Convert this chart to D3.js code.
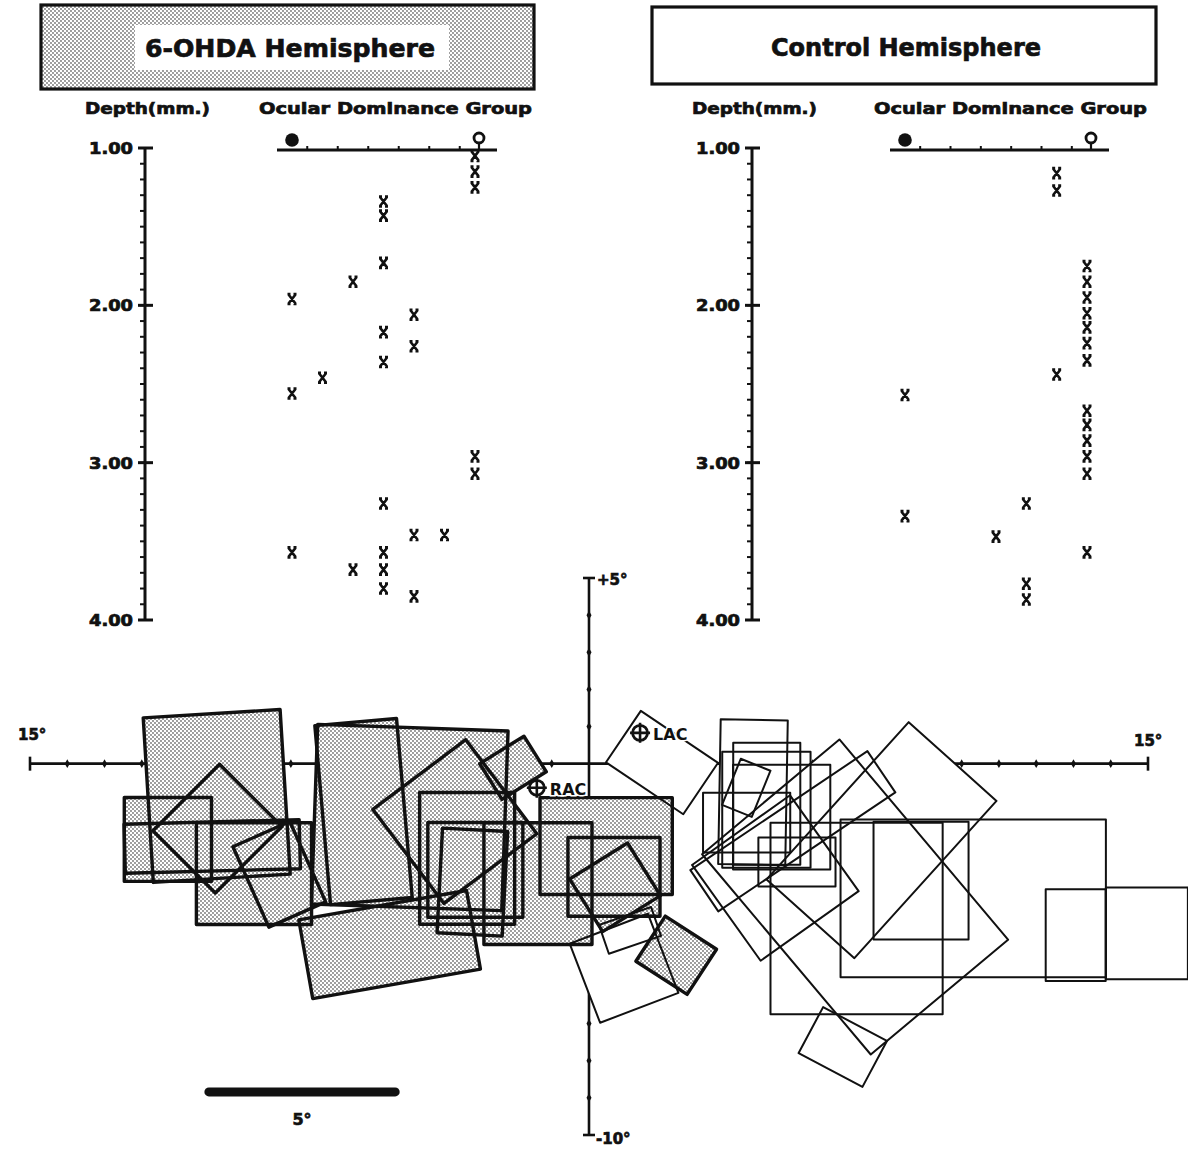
<!DOCTYPE html>
<html><head><meta charset="utf-8">
<script src="https://cdn.jsdelivr.net/npm/d3@7"></script>
<style>
  body { margin: 0; background: #fff; }
  svg { display: block; }
  text { font-family: "DejaVu Sans", "Liberation Sans", sans-serif; font-weight: bold; fill: #111; }
  text.heavy { stroke: #111; stroke-width: 0.7px; }
</style>
</head><body>
<svg id="fig" width="1188" height="1153"></svg>
<script>
// ---------- depth profiles ----------
const depthTicks = [1, 2, 3, 4];
const depthTickLabels = ["1.00", "2.00", "3.00", "4.00"];
const depthMinor = d3.range(10, 41).map(d => d / 10);
const odGroups = [1, 2, 3, 4, 5, 6, 7];

// 6-OHDA hemisphere: ocular dominance group and depth (mm) of each unit
const ohdaGroup = [1, 1, 1, 2, 3, 3, 4, 4, 4, 4, 4, 4, 4, 4, 4, 5, 5, 5, 5, 6, 7, 7, 7, 7, 7];
const ohdaDepth = [1.96, 2.56, 3.57, 2.46, 1.85, 3.68, 1.34, 1.43, 1.73, 2.17, 2.36, 3.26, 3.57, 3.68, 3.80,
                   2.06, 2.26, 3.46, 3.85, 3.46, 1.05, 1.15, 1.25, 2.96, 3.07];

// control hemisphere
const controlGroup = [1, 1, 4, 5, 5, 5, 6, 6, 6, 7, 7, 7, 7, 7, 7, 7, 7, 7, 7, 7, 7, 7];
const controlDepth = [2.57, 3.34, 3.47, 3.26, 3.77, 3.87, 1.16, 1.27, 2.44,
                      1.75, 1.85, 1.95, 2.05, 2.14, 2.24, 2.35, 2.67, 2.76, 2.86, 2.96, 3.07, 3.57];

// ---------- receptive field map (degrees of visual angle) ----------
// each field: [centre x, centre y, width, height, orientation (deg, counter-clockwise)]
const ohdaFields = [
  [-9.99, -0.87, 3.68, 4.44, 3.5],
  [-11.30, -2.04, 2.34, 2.26, 0],
  [-9.97, -1.75, 2.53, 2.37, 45],
  [-8.99, -2.96, 3.09, 2.74, 0],
  [-10.11, -2.23, 4.70, 1.32, 1.5],
  [-8.31, -2.98, 1.67, 2.37, 24],
  [-6.05, -1.29, 2.20, 4.84, 5],
  [-4.81, -1.45, 5.11, 4.84, -2],
  [-5.35, -4.87, 4.57, 2.15, 10],
  [-3.60, -1.56, 3.12, 3.17, 37],
  [-3.27, -2.55, 2.55, 3.55, 0],
  [-3.05, -2.86, 2.55, 2.55, 0],
  [-3.13, -3.19, 1.75, 2.82, -3],
  [-2.04, -0.11, 1.40, 1.13, 32],
  [0.46, -2.22, 3.55, 2.61, 0],
  [-1.37, -3.23, 2.90, 3.28, 0],
  [0.67, -3.05, 2.47, 2.12, 0],
  [0.70, -3.33, 1.83, 1.67, 32],
  [2.34, -5.16, 1.45, 1.64, 57]
];
const controlFields = [
  [1.96, 0.03, 2.50, 1.67, -34],
  [4.40, -0.77, 1.80, 3.90, -1],
  [4.77, -1.08, 1.80, 3.28, 0],
  [4.76, -1.24, 2.37, 3.12, 0],
  [5.17, -1.44, 2.61, 2.82, 0],
  [4.22, -0.65, 0.86, 1.34, -22],
  [4.23, -1.59, 2.34, 1.61, 0],
  [5.58, -2.65, 2.07, 1.32, 0],
  [10.31, -3.63, 7.12, 4.25, 0],
  [8.91, -3.15, 2.55, 3.17, 0],
  [7.18, -4.17, 4.62, 5.16, 0],
  [13.06, -4.62, 1.61, 2.47, 0],
  [14.97, -4.57, 2.20, 2.47, 0],
  [7.85, -2.06, 5.70, 3.17, 48],
  [7.14, -3.59, 4.81, 7.04, 40],
  [6.81, -7.63, 1.94, 1.40, -28],
  [5.47, -1.82, 5.73, 1.34, 34],
  [5.00, -3.08, 3.23, 3.17, 35.5],
  [0.94, -5.51, 2.25, 2.28, 21],
  [1.10, -4.49, 1.48, 0.82, 19]
];
// area centralis of each eye
const centres = [{name: "RAC", x: -1.40, y: -0.65}, {name: "LAC", x: 1.37, y: 0.83}];
const mapXTicks = d3.range(-15, 16);
const mapYTicks = d3.range(-10, 6);
const scaleBarDeg = 5;

// ---------- drawing ----------
const svg = d3.select("#fig");
const defs = svg.append("defs");
const pat = defs.append("pattern").attr("id", "stipple")
  .attr("width", 4).attr("height", 4).attr("patternUnits", "userSpaceOnUse");
pat.append("rect").attr("width", 4).attr("height", 4).attr("fill", "#fff");
pat.selectAll("circle").data([[1, 1], [3, 3]]).join("circle")
  .attr("cx", d => d[0]).attr("cy", d => d[1]).attr("r", 0.78).attr("fill", "#111");

const depth = d3.scaleLinear().domain([1, 4]).range([148, 620]);

function xMark(g) {
  g.append("path")
    .attr("d", "M-3.5,-4.5L3.5,4.5M3.5,-4.5L-3.5,4.5M-4.5,-5H-1.5M1.5,-5H4.5M-4.5,5H-1.5M1.5,5H4.5")
    .attr("stroke", "#111").attr("stroke-width", 2.6).attr("fill", "none");
}

function panel(cfg) {
  const g = svg.append("g");
  // title box
  g.append("rect").attr("x", cfg.box[0]).attr("y", cfg.box[1])
    .attr("width", cfg.box[2]).attr("height", cfg.box[3])
    .attr("fill", cfg.shaded ? "url(#stipple)" : "#fff")
    .attr("stroke", "#111").attr("stroke-width", 3.2);
  if (cfg.shaded) {
    g.append("rect").attr("x", cfg.inner[0]).attr("y", cfg.inner[1])
      .attr("width", cfg.inner[2]).attr("height", cfg.inner[3]).attr("fill", "#fff");
  }
  g.append("text").attr("class", "heavy").attr("x", cfg.titleX).attr("y", cfg.titleY)
    .attr("text-anchor", "middle").attr("font-size", 25)
    .attr("textLength", cfg.titleW).attr("lengthAdjust", "spacingAndGlyphs")
    .text(cfg.title);

  // column headings
  g.append("text").attr("class", "heavy").attr("x", cfg.axisX - 60).attr("y", 114).attr("font-size", 16)
    .attr("textLength", 125).attr("lengthAdjust", "spacingAndGlyphs").text("Depth(mm.)");
  g.append("text").attr("class", "heavy").attr("x", cfg.odLabelX).attr("y", 114).attr("font-size", 16)
    .attr("textLength", 273).attr("lengthAdjust", "spacingAndGlyphs").text("Ocular Dominance Group");

  // depth axis
  const ax = cfg.axisX;
  g.append("line").attr("x1", ax).attr("x2", ax).attr("y1", depth(1)).attr("y2", depth(4))
    .attr("stroke", "#111").attr("stroke-width", 3);
  g.selectAll(".minor").data(depthMinor).join("line")
    .attr("x1", ax - 5).attr("x2", ax + 1)
    .attr("y1", d => depth(d)).attr("y2", d => depth(d))
    .attr("stroke", "#111").attr("stroke-width", 2);
  g.selectAll(".major").data(depthTicks).join("line")
    .attr("x1", ax - 7).attr("x2", ax + 8)
    .attr("y1", d => depth(d)).attr("y2", d => depth(d))
    .attr("stroke", "#111").attr("stroke-width", 3);
  g.selectAll(".dlab").data(depthTicks).join("text").attr("class", "heavy")
    .attr("x", ax - 12).attr("y", d => depth(d) + 6)
    .attr("text-anchor", "end").attr("font-size", 15)
    .attr("textLength", 44).attr("lengthAdjust", "spacingAndGlyphs")
    .text((d, i) => depthTickLabels[i]);

  // ocular dominance axis
  const od = d3.scaleLinear().domain([1, 7]).range(cfg.odRange);
  const oy = 150;
  g.append("line").attr("x1", od(1) - 15).attr("x2", od(7) + 22).attr("y1", oy).attr("y2", oy)
    .attr("stroke", "#111").attr("stroke-width", 3);
  g.selectAll(".odt").data(odGroups.slice(0, 6)).join("line")
    .attr("x1", d => od(d + 0.5)).attr("x2", d => od(d + 0.5))
    .attr("y1", oy).attr("y2", oy - 4)
    .attr("stroke", "#111").attr("stroke-width", 2);
  g.append("circle").attr("cx", od(1)).attr("cy", oy - 10).attr("r", 6.8).attr("fill", "#111");
  g.append("circle").attr("cx", od(7) + 4).attr("cy", oy - 12).attr("r", 5)
    .attr("fill", "#fff").attr("stroke", "#111").attr("stroke-width", 2.8);
  g.append("line").attr("x1", od(7) + 4).attr("x2", od(7) + 4).attr("y1", oy - 7).attr("y2", oy)
    .attr("stroke", "#111").attr("stroke-width", 2.2);

  // units
  cfg.groups.forEach((grp, i) => {
    const m = g.append("g").attr("transform", `translate(${od(grp)},${depth(cfg.depths[i])})`);
    xMark(m);
  });
}

panel({
  box: [41, 5, 493, 84], shaded: true, inner: [135, 25, 314, 45],
  title: "6-OHDA Hemisphere", titleX: 290, titleY: 57, titleW: 290,
  axisX: 145, odLabelX: 259, odRange: [292, 475],
  groups: ohdaGroup, depths: ohdaDepth
});
panel({
  box: [652, 7, 504, 77], shaded: false,
  title: "Control Hemisphere", titleX: 906, titleY: 56, titleW: 270,
  axisX: 752, odLabelX: 874, odRange: [905, 1087],
  groups: controlGroup, depths: controlDepth
});

// ---------- map ----------
const mx = d3.scaleLinear().domain([-15, 15]).range([30, 1148]);
const my = d3.scaleLinear().domain([5, -10]).range([578, 1135]);
const map = svg.append("g");

// meridians
map.append("line").attr("x1", mx(-15)).attr("x2", mx(15)).attr("y1", my(0)).attr("y2", my(0))
  .attr("stroke", "#111").attr("stroke-width", 2.6);
map.append("line").attr("x1", mx(0)).attr("x2", mx(0)).attr("y1", my(5)).attr("y2", my(-10))
  .attr("stroke", "#111").attr("stroke-width", 2.6);
const diamond = d3.symbol().type(d3.symbolDiamond).size(22);
map.selectAll(".hx").data(mapXTicks.filter(d => d !== 0 && Math.abs(d) !== 15)).join("path")
  .attr("d", diamond).attr("transform", d => `translate(${mx(d)},${my(0)})`).attr("fill", "#111");
map.selectAll(".vy").data(mapYTicks.filter(d => d !== 0 && d !== 5 && d !== -10)).join("path")
  .attr("d", diamond).attr("transform", d => `translate(${mx(0)},${my(d)})`).attr("fill", "#111");
[-15, 15].forEach(d => map.append("line").attr("x1", mx(d)).attr("x2", mx(d))
  .attr("y1", my(0) - 7).attr("y2", my(0) + 7).attr("stroke", "#111").attr("stroke-width", 2.6));
[5, -10].forEach(d => map.append("line").attr("x1", mx(0) - 6).attr("x2", mx(0) + 6)
  .attr("y1", my(d)).attr("y2", my(d)).attr("stroke", "#111").attr("stroke-width", 2.6));

function corners(f) {
  const [cx, cy, w, h, a] = f;
  const r = a * Math.PI / 180, c = Math.cos(r), s = Math.sin(r);
  return [[-1, 1], [1, 1], [1, -1], [-1, -1]].map(([sx, sy]) => {
    const dx = sx * w / 2, dy = sy * h / 2;
    return [mx(cx + dx * c - dy * s), my(cy + dx * s + dy * c)];
  });
}
const poly = f => "M" + corners(f).map(p => p.join(",")).join("L") + "Z";

map.selectAll(".cfill").data(controlFields).join("path").attr("d", poly).attr("fill", "#fff");
map.selectAll(".ofill").data(ohdaFields).join("path").attr("d", poly).attr("fill", "url(#stipple)");
map.selectAll(".cline").data(controlFields).join("path").attr("d", poly)
  .attr("fill", "none").attr("stroke", "#111").attr("stroke-width", 2).attr("stroke-linejoin", "round");
map.selectAll(".oline").data(ohdaFields).join("path").attr("d", poly)
  .attr("fill", "none").attr("stroke", "#111").attr("stroke-width", 3.4).attr("stroke-linejoin", "round");

// area centralis markers
centres.forEach(c => {
  const g = map.append("g").attr("transform", `translate(${mx(c.x)},${my(c.y)})`);
  g.append("circle").attr("r", 7.5).attr("fill", "#fff").attr("stroke", "#111").attr("stroke-width", 2.8);
  g.append("path").attr("d", "M-10,0H10M0,-10V10").attr("stroke", "#111").attr("stroke-width", 2.6);
  g.append("text").attr("x", 13).attr("y", 7).attr("font-size", 16)
    .attr("stroke", "#fff").attr("stroke-width", 3).attr("paint-order", "stroke").text(c.name);
});

// meridian end labels
map.append("text").attr("class", "heavy").attr("x", mx(-15) - 12).attr("y", my(0) - 24).attr("font-size", 15).text("15°");
map.append("text").attr("class", "heavy").attr("x", mx(15) - 14).attr("y", my(0) - 18).attr("font-size", 15).text("15°");
map.append("text").attr("class", "heavy").attr("x", mx(0) + 8).attr("y", my(5) + 7).attr("font-size", 15).text("+5°");
map.append("text").attr("class", "heavy").attr("x", mx(0) + 7).attr("y", my(-10) + 9).attr("font-size", 15).text("-10°");

// scale bar
const sbY = my(-8.84);
map.append("line").attr("x1", mx(-10.2)).attr("x2", mx(-10.2 + scaleBarDeg))
  .attr("y1", sbY).attr("y2", sbY).attr("stroke", "#111").attr("stroke-width", 9).attr("stroke-linecap", "round");
map.append("text").attr("class", "heavy").attr("x", mx(-10.2 + scaleBarDeg / 2)).attr("y", sbY + 33)
  .attr("text-anchor", "middle").attr("font-size", 16).text(scaleBarDeg + "°");
</script>
</body></html>
